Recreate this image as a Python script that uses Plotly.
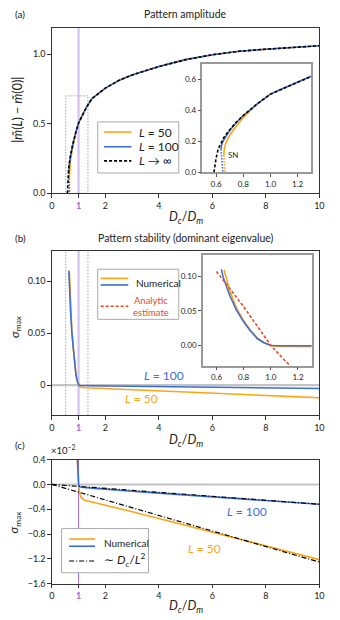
import plotly.graph_objects as go

W, H = 340, 620
FONT = "Lato"

# ---- data ----
# pattern amplitude |m(L) - m(0)| vs Dc/Dm
d_inf = [0.584, 0.59, 0.60, 0.615, 0.625, 0.64, 0.66, 0.70, 0.75, 0.80, 0.90, 1.00, 1.10,
         1.20, 1.30, 1.50, 2.0, 2.5, 3.0, 4.0, 5.0, 6.0, 7.0, 8.0, 9.0, 10.0]
a_inf = [0.0, 0.05, 0.09, 0.15, 0.17, 0.195, 0.229, 0.275, 0.325, 0.367, 0.44, 0.505, 0.545,
         0.585, 0.62, 0.68, 0.755, 0.81, 0.85, 0.91, 0.96, 0.995, 1.02, 1.035, 1.05, 1.06]

d_100 = [0.636, 0.64, 0.65, 0.66, 0.68, 0.70, 0.75, 0.80, 0.90, 1.00, 1.10, 1.20, 1.30,
         1.50, 2.0, 2.5, 3.0, 4.0, 5.0, 6.0, 7.0, 8.0, 9.0, 10.0]
a_100 = [0.15, 0.175, 0.20, 0.215, 0.245, 0.27, 0.322, 0.367, 0.44, 0.505, 0.545, 0.585, 0.62,
         0.68, 0.755, 0.81, 0.85, 0.91, 0.96, 0.995, 1.02, 1.035, 1.05, 1.06]
d_100_unst = [0.636, 0.639, 0.644, 0.650]
a_100_unst = [0.15, 0.10, 0.05, 0.0]

d_50 = [0.657, 0.66, 0.67, 0.69, 0.72, 0.76, 0.80, 0.90, 1.00, 1.10, 1.20, 1.30,
        1.50, 2.0, 2.5, 3.0, 4.0, 5.0, 6.0, 7.0, 8.0, 9.0, 10.0]
a_50 = [0.11, 0.15, 0.185, 0.225, 0.265, 0.31, 0.355, 0.44, 0.505, 0.545, 0.585, 0.62,
        0.68, 0.755, 0.81, 0.85, 0.91, 0.96, 0.995, 1.02, 1.035, 1.05, 1.06]
d_50_unst = [0.657, 0.66, 0.663, 0.666]
a_50_unst = [0.11, 0.07, 0.035, 0.0]

# dominant eigenvalue sigma_max vs Dc/Dm
ds_50 = [0.656, 0.68, 0.70, 0.75, 0.80, 0.85, 0.90, 0.95, 1.00, 1.02, 1.05, 1.10, 1.20,
         1.50, 2.0, 3.0, 4.0, 5.0, 6.0, 7.0, 8.0, 9.0, 10.0]
s_50 = [0.109, 0.094, 0.078, 0.053, 0.036, 0.022, 0.011, 0.004, 0.0, -0.0008, -0.0016,
        -0.0021, -0.0025, -0.0028, -0.0033, -0.0044, -0.0055, -0.0066, -0.0077, -0.0088,
        -0.0099, -0.0110, -0.0121]
ds_100 = [0.636, 0.65, 0.70, 0.75, 0.80, 0.85, 0.90, 0.95, 1.00, 1.02, 1.05, 1.10, 1.50,
          2.0, 3.0, 4.0, 5.0, 6.0, 7.0, 8.0, 9.0, 10.0]
s_100 = [0.110, 0.098, 0.071, 0.050, 0.034, 0.021, 0.010, 0.004, 0.0, -0.0003, -0.0004,
         -0.00045, -0.0006, -0.0008, -0.0011, -0.0014, -0.0017, -0.0020, -0.0023, -0.0026,
         -0.0029, -0.0032]
d_analytic = [0.60, 0.70, 0.80, 0.90, 1.00, 1.10, 1.20]
s_analytic = [0.107, 0.082, 0.056, 0.028, 0.0, -0.021, -0.041]
d_fit = [0.0, 10.0]
s_fit_50 = [0.0, -0.0125]
s_fit_100 = [0.0, -0.0032]

zoom_box = [0.52, 1.35]   # dotted zoom window (Dc/Dm)
zoom_top = 0.7

ORANGE = "#ffa514"
BLUE = "#3a6fd8"
RED = "#f0461e"
PURPLE_L = "#d3c1f0"
PURPLE = "#9c6ad8"


def px(x):
    return x / W


def py(y):
    return 1 - y / H


fig = go.Figure()


def line(x, y, ax, color, width=1.6, dash="solid", scale=1.0):
    fig.add_trace(go.Scatter(x=x, y=[v * scale for v in y], mode="lines", xaxis="x" + ax,
                             yaxis="y" + ax, line=dict(color=color, width=width, dash=dash),
                             showlegend=False, hoverinfo="skip"))


DASH = "3px,2px"
DOT = "1.5px,1.5px"
DASHDOT = "5px,2px,1px,2px"

# (a) main + inset
for ax in ["", "4"]:
    line(d_50, a_50, ax, ORANGE)
    line(d_50_unst, a_50_unst, ax, ORANGE, dash=DOT)
    line(d_100, a_100, ax, BLUE)
    line(d_100_unst, a_100_unst, ax, BLUE, dash=DOT)
    line(d_inf, a_inf, ax, "black", width=1.6, dash=DASH)

# (b) main + inset
for ax in ["2", "5"]:
    line(ds_50, s_50, ax, ORANGE)
    line(ds_100, s_100, ax, BLUE)
line(d_analytic, s_analytic, "5", RED, width=1.6, dash=DASH)

# (c) in units of 1e-2
line(ds_50, s_50, "3", ORANGE, scale=100)
line(ds_100, s_100, "3", BLUE, scale=100)
line(d_fit, s_fit_100, "3", "black", width=1.2, dash=DASHDOT, scale=100)
line(d_fit, s_fit_50, "3", "black", width=1.2, dash=DASHDOT, scale=100)

# ---- axes ----
xdom = [px(50), px(324)]
tickfont = dict(family=FONT, size=9, color="#222")
one = '<span style="color:%s"><b>1</b></span>' % PURPLE
xticks = dict(tickvals=[0, 1, 2, 4, 6, 8, 10], ticktext=["0", one, "2", "4", "6", "8", "10"])
main_ax = dict(showline=True, mirror=True, linecolor="#333", linewidth=1, ticks="outside",
               ticklen=3.5, tickwidth=0.8, tickcolor="#333", showgrid=False, zeroline=False,
               tickfont=tickfont)
ins_ax = dict(showline=True, mirror=True, linecolor="#999", linewidth=1.5, ticks="outside",
              ticklen=3, tickwidth=0.8, tickcolor="#555", showgrid=False, zeroline=False,
              tickfont=dict(family=FONT, size=8, color="#222"))

layout = dict(
    width=W, height=H, margin=dict(l=0, r=0, t=0, b=0),
    paper_bgcolor="white", plot_bgcolor="white", showlegend=False,
    font=dict(family=FONT, size=10, color="#222"),
    xaxis=dict(domain=xdom, range=[0, 10], anchor="y", **xticks, **main_ax),
    yaxis=dict(domain=[py(190.7), py(22)], range=[0, 1.19], anchor="x",
               tickvals=[0, 0.5, 1.0], ticktext=["0.0", "0.5", "1.0"], **main_ax),
    xaxis2=dict(domain=xdom, range=[0, 10], anchor="y2", **xticks, **main_ax),
    yaxis2=dict(domain=[py(416.7), py(249.3)], range=[-0.029, 0.129], anchor="x2",
                tickvals=[0, 0.05, 0.10], ticktext=["0", "0.05", "0.10"], **main_ax),
    xaxis3=dict(domain=xdom, range=[0, 10], anchor="y3", **xticks, **main_ax),
    yaxis3=dict(domain=[py(588.3), py(461.7)], range=[-1.6, 0.4], anchor="x3",
                tickvals=[0.4, 0.0, -0.4, -0.8, -1.2, -1.6],
                ticktext=["0.4", "0.0", "−0.4", "−0.8", "−1.2", "−1.6"], **main_ax),
    xaxis4=dict(domain=[px(204.3), px(315.7)], range=[0.5, 1.3], anchor="y4",
                tickvals=[0.6, 0.8, 1.0, 1.2], ticktext=["0.6", "0.8", "1.0", "1.2"], **ins_ax),
    yaxis4=dict(domain=[py(169.3), py(59)], range=[0, 0.70], anchor="x4",
                tickvals=[0, 0.2, 0.4, 0.6], ticktext=["0.0", "0.2", "0.4", "0.6"], **ins_ax),
    xaxis5=dict(domain=[px(204.7), px(316)], range=[0.5, 1.3], anchor="y5",
                tickvals=[0.6, 0.8, 1.0, 1.2], ticktext=["0.6", "0.8", "1.0", "1.2"], **ins_ax),
    yaxis5=dict(domain=[py(366), py(254)], range=[-0.029, 0.13], anchor="x5",
                tickvals=[0, 0.05, 0.10], ticktext=["0.00", "0.05", "0.10"], **ins_ax),
)
fig.update_layout(**layout)

shapes = []
# white backgrounds of the insets (drawn inside the inset subplot layer)
for ax in ["4", "5"]:
    shapes.append(dict(type="rect", xref="x%s domain" % ax, yref="y%s domain" % ax,
                       x0=0, x1=1, y0=0, y1=1, fillcolor="white", line=dict(width=0),
                       layer="below"))
# reference lines
shapes.append(dict(type="line", xref="x", yref="y domain", x0=1, x1=1, y0=0, y1=1,
                   line=dict(color=PURPLE_L, width=2.2), layer="below"))
shapes.append(dict(type="line", xref="x2", yref="y2 domain", x0=1, x1=1, y0=0, y1=1,
                   line=dict(color=PURPLE_L, width=2.2), layer="below"))
shapes.append(dict(type="line", xref="x3", yref="y3 domain", x0=1, x1=1, y0=0, y1=1,
                   line=dict(color=PURPLE, width=1), layer="below"))
for ax in ["4", "5"]:
    shapes.append(dict(type="line", xref="x" + ax, yref="y%s domain" % ax, x0=1, x1=1,
                       y0=0, y1=1, line=dict(color=PURPLE, width=1), layer="below"))
shapes.append(dict(type="line", xref="x2 domain", yref="y2", x0=0, x1=1, y0=0, y1=0,
                   line=dict(color="#c4c4c4", width=2.2), layer="below"))
shapes.append(dict(type="line", xref="x5 domain", yref="y5", x0=0, x1=1, y0=0, y1=0,
                   line=dict(color="#777", width=1), layer="below"))
shapes.append(dict(type="line", xref="x3 domain", yref="y3", x0=0, x1=1, y0=0, y1=0,
                   line=dict(color="#c4c4c4", width=2), layer="below"))
# zoom window
shapes.append(dict(type="rect", xref="x", yref="y", x0=zoom_box[0], x1=zoom_box[1], y0=0,
                   y1=zoom_top, line=dict(color="#999", width=0.9, dash=DOT), layer="below"))
for xv in zoom_box:
    shapes.append(dict(type="line", xref="x2", yref="y2 domain", x0=xv, x1=xv, y0=0, y1=1,
                       line=dict(color="#999", width=0.9, dash=DOT), layer="below"))

ann = []


def text(x, y, s, size=10, color="#222", xanchor="center", angle=0):
    ann.append(dict(x=px(x), y=py(y), xref="paper", yref="paper", text=s, showarrow=False,
                    xanchor=xanchor, yanchor="middle", textangle=angle,
                    font=dict(family=FONT, size=size, color=color)))


def legend_box(x0, y0, x1, y1):
    shapes.append(dict(type="rect", xref="paper", yref="paper", x0=px(x0), x1=px(x1),
                       y0=py(y1), y1=py(y0), fillcolor="white",
                       line=dict(color="#aaa", width=1)))


def legend_line(x0, x1, y, color, dash="solid", width=1.6):
    shapes.append(dict(type="line", xref="paper", yref="paper", x0=px(x0), x1=px(x1),
                       y0=py(y), y1=py(y), line=dict(color=color, width=width, dash=dash)))


# (a) legend
legend_box(97, 118, 180, 170)
legend_line(103.5, 131.5, 128.3, ORANGE)
legend_line(103.5, 131.5, 143.3, BLUE)
legend_line(103.5, 131.5, 157.7, "black", dash=DASH)
text(137, 128.3, "<i>L</i> = 50", size=12, xanchor="left")
text(137, 143.3, "<i>L</i> = 100", size=12, xanchor="left")
text(137, 157.7, "<i>L</i> → ∞", size=12, xanchor="left")

# (b) legend
legend_box(97, 268, 180, 319)
legend_line(100, 128.3, 277.3, ORANGE)
legend_line(100, 128.3, 284, BLUE)
legend_line(100, 128.3, 305.7, RED, dash=DASH)
text(134.3, 281.5, "Numerical", size=10, xanchor="left")
text(152, 305.5, "Analytic<br>estimate", size=9.5, color=RED)

# (c) legend
legend_box(60, 532, 149, 577)
legend_line(67.7, 94.3, 542.7, ORANGE)
legend_line(67.7, 94.3, 550, BLUE)
legend_line(67.7, 94.3, 565, "black", dash=DASHDOT, width=1.2)
text(101, 546.5, "Numerical", size=10, xanchor="left")
text(101, 564.5, "∼ <i>D<sub>c</sub></i>/<i>L</i><sup>2</sup>", size=12, xanchor="left")

# titles, panel letters, axis labels
text(187, 8.5, "Pattern amplitude", size=10.5)
text(187, 236, "Pattern stability (dominant eigenvalue)", size=10.5)
text(17, 8.5, "(a)", size=10)
text(17.5, 236, "(b)", size=10)
text(17, 447, "(c)", size=10)
xlab = "<i>D<sub>c</sub></i>/<i>D<sub>m</sub></i>"
text(187, 215, xlab, size=12.5)
text(187, 442, xlab, size=12.5)
text(187, 611, xlab, size=12.5)
text(14, 106, "|<i>m̃</i>(<i>L</i>) − <i>m̃</i>(0)|", size=12.5, angle=-90)
text(12, 326, "<i>σ</i><sub>max</sub>", size=12, angle=-90)
text(12, 525, "<i>σ</i><sub>max</sub>", size=12, angle=-90)
text(47, 452, "×10<sup>−2</sup>", size=9.5, xanchor="left")

# curve labels (data coordinates)
for x, y, s, c, axn in [(0.675, 0.11, "SN", "#333", "4"),
                        (4.18, 0.0097, "<i>L</i> = 100", BLUE, "2"),
                        (3.36, -0.0132, "<i>L</i> = 50", ORANGE, "2"),
                        (7.3, -0.43, "<i>L</i> = 100", BLUE, "3"),
                        (5.7, -1.03, "<i>L</i> = 50", ORANGE, "3")]:
    ann.append(dict(x=x, y=y, xref="x" + axn, yref="y" + axn, text=s, showarrow=False,
                    xanchor="left" if s == "SN" else "center", yanchor="middle",
                    font=dict(family=FONT, size=8 if s == "SN" else 12, color=c)))

fig.update_layout(shapes=shapes, annotations=ann)
fig.write_html("out.html", config={"displayModeBar": False},
               post_script="document.body.style.margin='0';")
